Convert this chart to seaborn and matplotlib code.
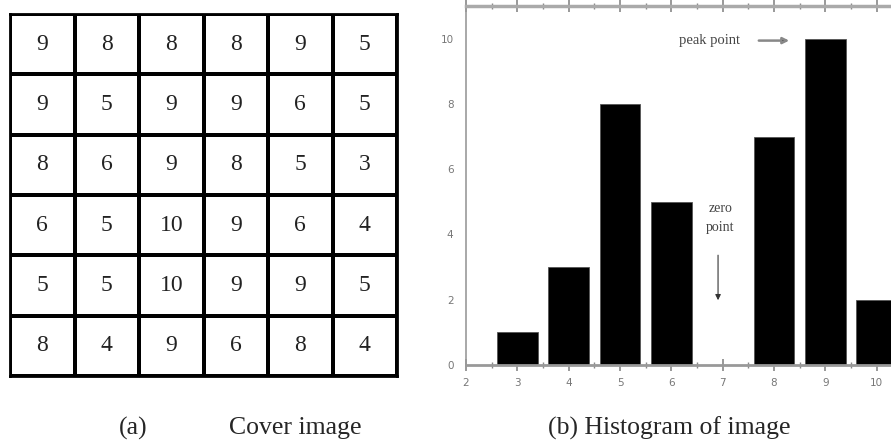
import numpy as np
import pandas as pd
import matplotlib
matplotlib.use("Agg")
import matplotlib.pyplot as plt
from matplotlib.colors import ListedColormap
from matplotlib.ticker import MultipleLocator
import seaborn as sns

# piksele obrazu pokrywającego (6x6)
cover = [
    [9, 8, 8, 8, 9, 5],
    [9, 5, 9, 9, 6, 5],
    [8, 6, 9, 8, 5, 3],
    [6, 5, 10, 9, 6, 4],
    [5, 5, 10, 9, 9, 5],
    [8, 4, 9, 6, 8, 4],
]
x_ticks = [2, 3, 4, 5, 6, 7, 8, 9, 10]
y_ticks = [0, 2, 4, 6, 8, 10]
peak_label = "peak point"
zero_label = "zero\npoint"

sns.set_style("white")
plt.rcParams['font.family'] = ['Liberation Serif', 'DejaVu Serif']

W, H = 891, 443
fig = plt.figure(figsize=(W / 100, H / 100), dpi=100)

# --- (a) tabela pikseli ---
ax1 = fig.add_axes([10 / W, (H - 376) / H, 387 / W, 362 / H])
grid = pd.DataFrame(cover)
sns.heatmap(grid, ax=ax1, annot=True, fmt="d", cbar=False,
            cmap=ListedColormap(["white"]), linewidths=1.5, linecolor="black",
            annot_kws={"fontsize": 17, "color": "#222222", "family": "Liberation Serif"})
ax1.set_xticks([])
ax1.set_yticks([])
for s in ax1.spines.values():
    s.set_visible(True)
    s.set_color("black")
    s.set_linewidth(2)

# --- (b) histogram ---
ax2 = fig.add_axes([466 / W, (H - 365) / H, 462 / W, 359 / H])
values = pd.DataFrame({"pixel": np.array(cover).ravel()})
sns.histplot(data=values, x="pixel", discrete=True, shrink=0.79, ax=ax2,
             color="black", edgecolor="#555555", linewidth=0.6, alpha=1)
ax2.set_xlim(2, 11)
ax2.set_ylim(0, 11)
ax2.set_xlabel("")
ax2.set_ylabel("")
ax2.set_xticks(x_ticks)
ax2.set_yticks(y_ticks)
ax2.xaxis.set_minor_locator(MultipleLocator(0.5))
ax2.yaxis.set_minor_locator(MultipleLocator(1))
ax2.tick_params(axis="both", which="both", colors="#888888",
                labelcolor="#777777", labelsize=7.5, labelfontfamily="DejaVu Sans")
ax2.tick_params(axis="x", which="major", direction="inout", length=9, width=1.2,
                top=True, bottom=True, pad=5)
ax2.tick_params(axis="x", which="minor", direction="inout", length=5, width=1,
                top=True, bottom=True)
ax2.tick_params(axis="y", which="major", direction="out", length=6, width=1.2, pad=3)
ax2.tick_params(axis="y", which="minor", direction="out", length=3, width=1)
for k in ["left", "bottom"]:
    ax2.spines[k].set_color("#999999")
    ax2.spines[k].set_linewidth(1.2)
ax2.spines["bottom"].set_linewidth(2)
ax2.spines["top"].set_color("#aaaaaa")
ax2.spines["top"].set_linewidth(2.5)
ax2.spines["right"].set_visible(False)

ax2.text(6.74, 9.94, peak_label, ha="center", va="center", fontsize=10.5, color="#444444")
ax2.annotate("", xy=(8.35, 9.94), xytext=(7.65, 9.94),
             arrowprops=dict(arrowstyle="-|>", color="#888888", lw=1.8,
                             mutation_scale=9, fc="black", ec="#888888"))
ax2.text(6.95, 4.5, zero_label, ha="center", va="center", fontsize=10,
         color="#444444", linespacing=1.6)
ax2.annotate("", xy=(6.91, 1.9), xytext=(6.91, 3.45),
             arrowprops=dict(arrowstyle="-|>", color="#333333", lw=0.8,
                             mutation_scale=8))

# podpisy
fig.text(133 / W, 1 - 428 / H, "(a)", ha="center", va="center", fontsize=18.5)
fig.text(295 / W, 1 - 428 / H, "Cover image", ha="center", va="center", fontsize=18.5)
fig.text(669 / W, 1 - 428 / H, "(b) Histogram of image", ha="center", va="center",
         fontsize=18.5)

fig.savefig("out.png", dpi=100)
